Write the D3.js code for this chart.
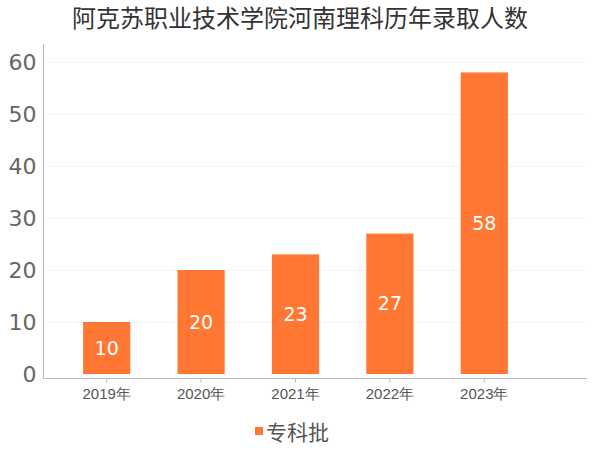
<!DOCTYPE html>
<html><head><meta charset="utf-8">
<script src="https://cdn.jsdelivr.net/npm/d3@7"></script>
<style>body{margin:0;background:#fff;}svg{display:block;font-family:"Noto Sans CJK SC","DejaVu Sans",sans-serif;}</style>
</head><body>
<svg id="c" width="600" height="450"></svg>
<script>
const title = "阿克苏职业技术学院河南理科历年录取人数";
const categories = ["2019年","2020年","2021年","2022年","2023年"];
const values = [10,20,23,27,58];
const seriesName = "专科批";
const yTicks = [0,10,20,30,40,50,60];
const color = "#FF7733";

const svg = d3.select("#c");
const x = d3.scaleBand().domain(categories).range([59.5,531.5]).paddingInner(0.5).paddingOuter(0.25);
const y = d3.scaleLinear().domain([0,60]).range([374,62]);

svg.append("text").attr("x",300).attr("y",27).attr("text-anchor","middle")
  .attr("font-size",24).attr("fill","#333").text(title);

// grid
svg.append("g").selectAll("line").data(yTicks.filter(d=>d>0)).join("line")
  .attr("x1",45).attr("x2",587).attr("y1",d=>Math.round(y(d))+0.5).attr("y2",d=>Math.round(y(d))+0.5)
  .attr("stroke","#f3f3f3");

// y axis
const ya = svg.append("g").attr("transform","translate(43.5,0)")
  .call(d3.axisLeft(y).tickValues(yTicks).tickSize(0).tickPadding(7));
ya.select(".domain").attr("stroke","#bbb").attr("d","M0,44V378");
ya.selectAll("text").attr("font-size",22).attr("fill","#666").attr("font-family","DejaVu Sans, sans-serif");

// x axis
const xa = svg.append("g").attr("transform","translate(0,378.5)")
  .call(d3.axisBottom(x).tickSize(4).tickPadding(6));
xa.select(".domain").attr("stroke","#bbb").attr("d","M43,0H587");
xa.selectAll(".tick line").attr("stroke","#bbb");
xa.selectAll("text").attr("font-size",15).attr("fill","#555");

// bars
svg.append("g").selectAll("rect").data(values).join("rect")
  .attr("x",(d,i)=>x(categories[i])).attr("width",x.bandwidth())
  .attr("y",d=>y(d)).attr("height",d=>y(0)-y(d)).attr("fill",color);

svg.append("g").selectAll("text").data(values).join("text")
  .attr("x",(d,i)=>x(categories[i])+x.bandwidth()/2)
  .attr("y",d=>(y(d)+y(0))/2).attr("dy","0.35em")
  .attr("text-anchor","middle").attr("font-size",19).attr("fill","#fff")
  .attr("font-family","DejaVu Sans, sans-serif").text(d=>d);

// legend
svg.append("rect").attr("x",255).attr("y",427).attr("width",8).attr("height",8).attr("fill",color);
svg.append("text").attr("x",266).attr("y",439.5).attr("font-size",21).attr("fill","#555").text(seriesName);
</script>
</body></html>
